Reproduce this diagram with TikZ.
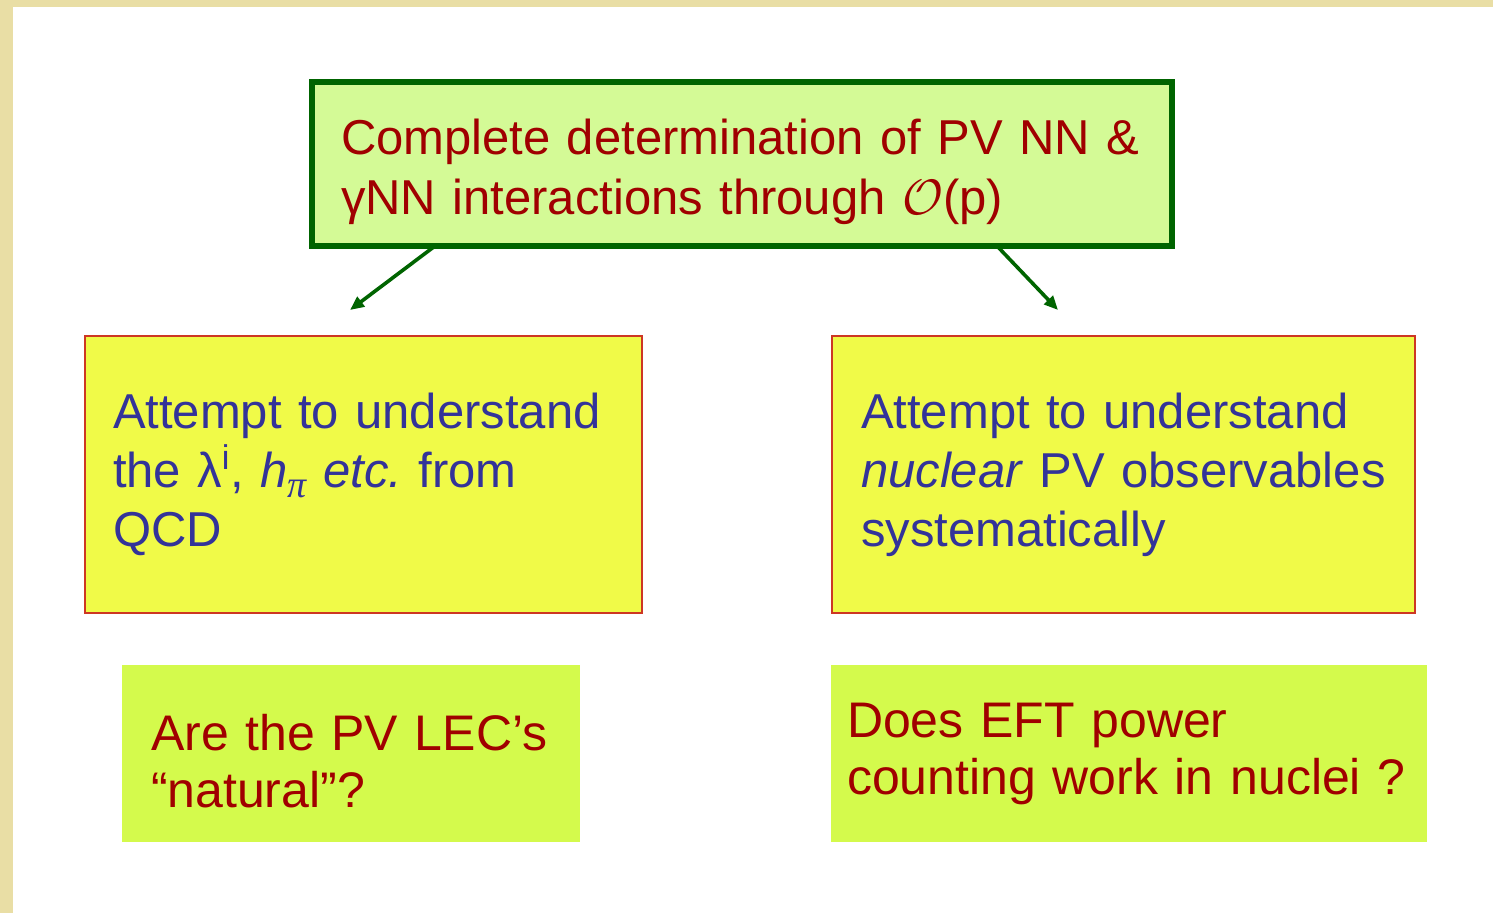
\documentclass[tikz,border=0pt]{standalone}
\usepackage{fontspec}
\setmainfont{Liberation Sans}
\newfontfamily\greekserif{Liberation Serif}
\usetikzlibrary{arrows.meta, positioning, calc}
\definecolor{FrameBeige}{RGB}{233,222,165}
\definecolor{GoalFill}{RGB}{212,250,150}
\definecolor{GoalEdge}{RGB}{0,100,0}
\definecolor{TextRed}{RGB}{160,0,0}
\definecolor{AimFill}{RGB}{240,250,72}
\definecolor{AimEdge}{RGB}{205,55,35}
\definecolor{TextBlue}{RGB}{51,51,153}
\definecolor{AskFill}{RGB}{212,250,76}
\tikzset{
  anybox/.style={rectangle, outer sep=0pt, inner ysep=0pt, anchor=north west, align=left},
  goalbox/.style={anybox, draw=GoalEdge, line width=3pt, fill=GoalFill, text=TextRed,
    font=\fontsize{24.5}{30}\selectfont},
  aimbox/.style={anybox, draw=AimEdge, line width=0.9pt, fill=AimFill, text=TextBlue,
    font=\fontsize{24.5}{29.5}\selectfont},
  askbox/.style={anybox, fill=AskFill, text=TextRed,
    font=\fontsize{25}{28.5}\selectfont},
  flow/.style={GoalEdge, line width=1.8pt, -{Triangle[length=7pt,width=6pt]}}
}
\begin{document}
\begin{tikzpicture}[x=0.5pt,y=-0.5pt]
  % page and slide frame
  \useasboundingbox (0,0) rectangle (1493,913);
  \fill[FrameBeige] (0,0) rectangle (1493,913);
  \fill[white] (13,7) rectangle (1493,913);

  % goal on top
  \node[goalbox, minimum width=430pt, minimum height=82pt, inner xsep=14.5pt,
    text width=401pt] (goal) at (312,82)
    {\rule{0pt}{26pt}Complete determination of PV NN \&\\
     γNN interactions through $\mathcal{O}$(p)};

  % the two aims
  \node[aimbox, minimum width=278.5pt, minimum height=138.5pt, inner xsep=14pt,
    text width=250.5pt] (qcd) at (85,336)
    {Attempt to understand\\
     the λ\textsuperscript{i}, \textit{h}\raisebox{-5pt}{\greekserif\itshape\fontsize{19}{19}\selectfont π}
     \textit{etc.}\ from\\
     QCD};
  \node[aimbox, minimum width=291.5pt, minimum height=138.5pt, inner xsep=14.5pt,
    text width=262.5pt] (nuc) at (832,336)
    {Attempt to understand\\
     \textit{nuclear} PV observables\\
     systematically};

  % open questions
  \node[askbox, minimum width=229pt, minimum height=88.5pt, inner xsep=14.5pt,
    text width=200pt] (natural) at (122,665)
    {\rule{0pt}{26pt}Are the PV LEC’s\\
     “natural”?};
  \node[askbox, minimum width=298pt, minimum height=88.5pt, inner xsep=8pt,
    text width=282pt] (power) at (831,665)
    {Does EFT power\\
     counting work in nuclei ?};

  % arrows out of the goal
  \coordinate (tipL) at (350,310);
  \coordinate (tipR) at (1058,310);
  \draw[flow] ($(goal.south)+(-307,0)$) -- (tipL);
  \draw[flow] ($(goal.south)+(255,0)$) -- (tipR);
\end{tikzpicture}
\end{document}
